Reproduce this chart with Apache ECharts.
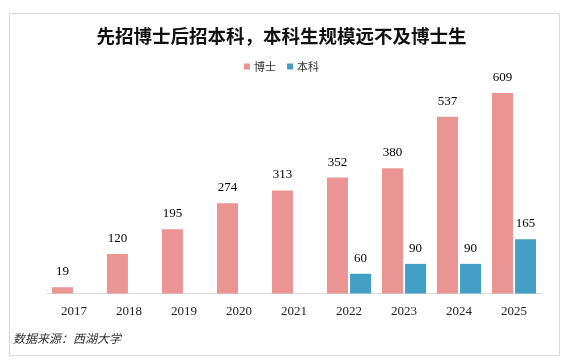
<!DOCTYPE html>
<html>
<head>
<meta charset="utf-8">
<script src="https://cdn.jsdelivr.net/npm/echarts@6/dist/echarts.min.js"></script>
<style>
html,body{margin:0;padding:0;background:#fff;}
#chart{width:563px;height:363px;}
</style>
</head>
<body>
<div id="chart"></div>
<script>
const categories = ['2017','2018','2019','2020','2021','2022','2023','2024','2025'];
const doctorValues = [19, 120, 195, 274, 313, 352, 380, 537, 609];
const undergradValues = [null, null, null, null, null, 60, 90, 90, 165];
const seriesNames = ['博士', '本科'];
const titleText = '先招博士后招本科，本科生规模远不及博士生';
const sourceText = '数据来源：西湖大学';

const chart = echarts.init(document.getElementById('chart'), null, {renderer: 'canvas'});
const labelStyle = {
  show: true, position: 'top', distance: 9,
  fontFamily: '"Liberation Serif", serif', fontSize: 13, color: '#000'
};
chart.setOption({
  animation: false,
  backgroundColor: '#fff',
  title: {
    text: titleText, left: 'center', top: 22,
    textStyle: {fontFamily: '"Noto Sans CJK SC", sans-serif', fontWeight: 'bold', fontSize: 18.5, color: '#111'}
  },
  legend: {
    data: seriesNames, top: 56, left: 'center',
    itemWidth: 6, itemHeight: 6, itemGap: 11, icon: 'rect',
    textStyle: {fontFamily: '"Noto Sans CJK SC", sans-serif', fontSize: 11, color: '#333', padding: [0, 0, 0, -1]}
  },
  grid: {left: 46.5, right: 21.5, top: 63, bottom: 69.5, containLabel: false},
  xAxis: {
    type: 'category', data: categories,
    axisLine: {lineStyle: {color: '#d9d9d9', width: 1}},
    axisTick: {show: false},
    axisLabel: {margin: 12, fontFamily: '"Liberation Serif", serif', fontSize: 13, color: '#222'}
  },
  yAxis: {type: 'value', min: 0, max: 700, show: false, splitLine: {show: false}},
  series: [
    {name: seriesNames[0], type: 'bar', data: doctorValues, barWidth: 21, barGap: '10%',
     itemStyle: {color: '#EA9493'}, label: labelStyle},
    {name: seriesNames[1], type: 'bar', data: undergradValues, barWidth: 21, barGap: '10%',
     itemStyle: {color: '#429FC6'}, label: labelStyle}
  ],
  graphic: [
    {type: 'rect', left: 7, top: 11, shape: {width: 550, height: 342},
     style: {fill: 'none', stroke: '#d9d9d9', lineWidth: 1}, z: -1},
    {type: 'text', left: 13, top: 332,
     style: {text: sourceText, font: 'italic 12px "Noto Sans CJK SC", sans-serif', fill: '#333'}}
  ]
});
</script>
</body>
</html>
